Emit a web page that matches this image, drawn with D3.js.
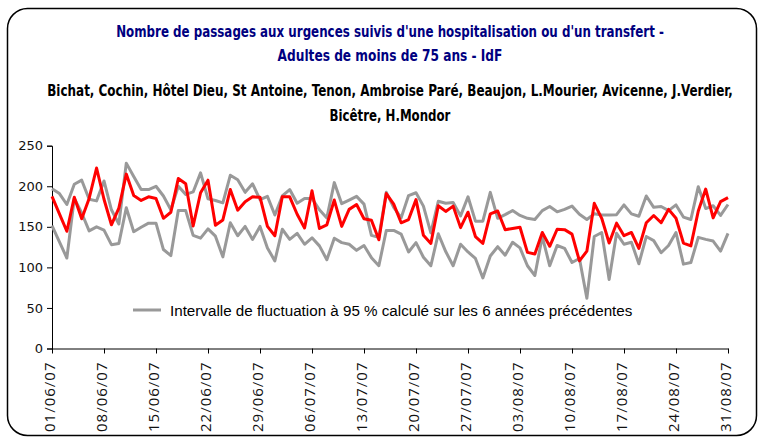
<!DOCTYPE html>
<html>
<head>
<meta charset="utf-8">
<script src="https://cdn.jsdelivr.net/npm/d3@7"></script>
<style>
  html, body { margin: 0; padding: 0; background: #fff; }
  svg { display: block; }
</style>
</head>
<body>
<svg id="chart" width="764" height="438"></svg>
<script>
// ---- data ----
const startDate = "01/06/07";
const endDate = "31/08/07";
const tickLabels = ["01/06/07","08/06/07","15/06/07","22/06/07","29/06/07","06/07/07","13/07/07",
  "20/07/07","27/07/07","03/08/07","10/08/07","17/08/07","24/08/07","31/08/07"];
const yTicks = [0, 50, 100, 150, 200, 250];

const observed = [187.5,166,144.5,186.5,160,185,222.5,184,152.5,173,215,188.5,182.5,187,185,160.5,
  168,209.5,203,151,192,207.5,152,158.5,196,170.5,181,187,186.5,150.5,139,187,187,165.5,148.5,194.5,
  148,152.5,183,150.5,171.5,177.5,160,158,134,191,178,155,159,183.5,139.5,129.5,176,169,175.5,149,
  168,138,129.5,166,169.5,146.5,148,149.5,118.5,116.5,143,126,147,146.5,141,108,120,179,160.5,130,
  154.5,139,143,123.5,155,164,155,171.5,160.5,130,126.5,169.5,196.5,161,181,186];

const upperBound = [197,191,177.5,202.5,207.5,184,182,206.5,171,153.5,228.5,212,196,196,200,188,
  171,200,190,193,216.5,184.5,182.5,179.5,213.5,208,192.5,203,183.5,187.5,164.5,188,196,179,185,185,
  171,161,204.5,178.5,183,187.5,178,139.5,137,192.5,174,161,188.5,192,175.5,142.5,181.5,179,180,163.5,
  187,157,157,192.5,160.5,165,170,164,160.5,159,170,175,168.5,171.5,175.5,165.5,159,166,164.5,164.5,
  165,177,166,163,188,174,175,170,177,162,159,199.5,172.5,176,164,177.5];

const lowerBound = [151.5,131.5,111.5,185,167,145,150,146,128,129.5,173.5,144,149.5,154.5,154.5,122,
  114.5,170,170,139.5,136,147.5,138.5,113,155,139,150.5,134.5,150.5,124,108,147,134.5,142,128.5,136.5,
  126.5,109.5,136,130.5,128.5,121,127,112,102,145.5,145.5,141,119,130.5,112.5,102,141.5,119.5,102,128.5,
  119,111,87,114,125.5,115,131,124,102,90,138,102,127,123.5,106,111,62,138,143,85,142,128.5,131,104.5,
  138,133,118,127,143,104,106,137,134.5,132.5,120,142];

const titleLines = ["Nombre de passages aux urgences suivis d'une hospitalisation ou d'un transfert -",
  "Adultes de moins de 75 ans - IdF"];
const subtitleLines = ["Bichat, Cochin, Hôtel Dieu, St Antoine, Tenon, Ambroise Paré, Beaujon, L.Mourier, Avicenne, J.Verdier,",
  "Bicêtre, H.Mondor"];
const legendLabel = "Intervalle de fluctuation à 95 % calculé sur les 6 années précédentes";

// ---- drawing ----
const parse = d3.timeParse("%d/%m/%y");
const days = d3.timeDay.range(parse(startDate), d3.timeDay.offset(parse(endDate), 1));

const svg = d3.select("#chart");
const W = 764, H = 438;
const plot = { left: 52, right: 728, top: 145.7, bottom: 348.5 };

svg.append("rect")
  .attr("x", 7.5).attr("y", 8.5).attr("width", W - 15).attr("height", H - 11)
  .attr("rx", 20).attr("ry", 20)
  .attr("fill", "#fff").attr("stroke", "#000").attr("stroke-width", 1.5);

const x = d3.scaleTime().domain([parse(startDate), parse(endDate)]).range([plot.left, plot.right]);
const y = d3.scaleLinear().domain([0, 250]).range([plot.bottom, plot.top]);

// fit a text horizontally to a target width with a scale transform
function fitText(sel, cx, cy, target, anchor) {
  const node = sel.node();
  const natural = node.getComputedTextLength();
  const k = natural > 0 ? target / natural : 1;
  sel.attr("x", 0).attr("y", 0).attr("text-anchor", anchor)
    .attr("transform", `translate(${cx},${cy}) scale(${k},1)`);
}

// title
const titleFont = "'Liberation Sans Narrow', 'DejaVu Sans Condensed', 'DejaVu Sans', sans-serif";
const tg = svg.append("g");
const titleSpecs = [
  { t: titleLines[0], y: 37, w: 548, color: "#000080" },
  { t: titleLines[1], y: 61, w: 225, color: "#000080" },
  { t: subtitleLines[0], y: 96, w: 686, color: "#000" },
  { t: subtitleLines[1], y: 121, w: 121, color: "#000" }
];
titleSpecs.forEach(s => {
  const t = tg.append("text")
    .attr("font-family", titleFont)
    .attr("font-size", 16)
    .attr("font-weight", "bold")
    .attr("fill", s.color)
    .text(s.t);
  fitText(t, 390, s.y, s.w, "middle");
});

// axes
const tickFont = "'DejaVu Sans', Verdana, sans-serif";
const yAxis = d3.axisLeft(y).tickValues(yTicks).tickSize(5).tickPadding(4);
const gy = svg.append("g").attr("transform", `translate(${plot.left},0)`).call(yAxis);
gy.select(".domain").attr("stroke", "#000");
gy.selectAll(".tick line").attr("stroke", "#000");
gy.selectAll("text").attr("font-family", tickFont)
  .attr("font-size", 13).attr("fill", "#111");

const xAxis = d3.axisBottom(x).tickValues(tickLabels.map(parse))
  .tickFormat(d3.timeFormat("%d/%m/%y")).tickSize(5).tickSizeOuter(0);
const gx = svg.append("g").attr("transform", `translate(0,${plot.bottom})`).call(xAxis);
gx.select(".domain").attr("stroke", "#000");
gx.selectAll(".tick line").attr("stroke", "#000");
gx.selectAll("text")
  .attr("font-family", "'Open Sans', 'DejaVu Sans', sans-serif")
  .attr("font-size", 15).attr("fill", "#111")
  .attr("letter-spacing", 1)
  .attr("text-anchor", "end")
  .attr("dy", "0.33em")
  .attr("transform", "translate(-2,13) rotate(-90)")
  .attr("x", 0).attr("y", 0);

// lines
const line = d3.line().x((d, i) => x(days[i])).y(d => y(d));
const series = [
  { data: upperBound, color: "#999999" },
  { data: lowerBound, color: "#999999" },
  { data: observed, color: "#ff0000" }
];
series.forEach(s => {
  svg.append("path")
    .datum(s.data)
    .attr("fill", "none")
    .attr("stroke", s.color)
    .attr("stroke-width", 3)
    .attr("stroke-linejoin", "round")
    .attr("d", line);
});

// legend
const lg = svg.append("g");
lg.append("line").attr("x1", 133).attr("x2", 161).attr("y1", 310).attr("y2", 310)
  .attr("stroke", "#999999").attr("stroke-width", 3);
const lt = lg.append("text")
  .attr("font-family", "'Liberation Sans', Arial, sans-serif")
  .attr("font-size", 15).attr("fill", "#000")
  .text(legendLabel);
fitText(lt, 170, 315.5, 463, "start");
</script>
</body>
</html>
